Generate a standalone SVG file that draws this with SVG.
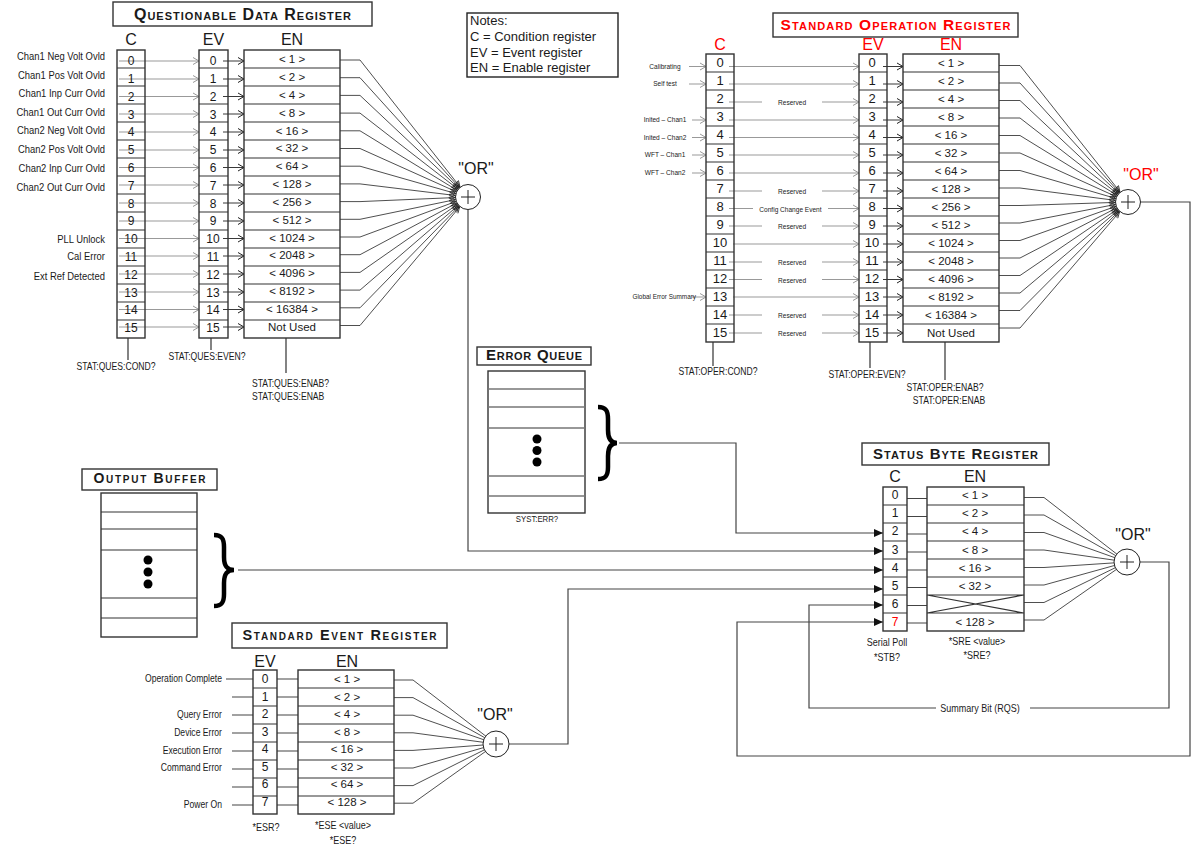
<svg xmlns="http://www.w3.org/2000/svg" width="1196" height="852" viewBox="0 0 1196 852">
<defs>
<style>
text{font-family:"Liberation Sans",Arial,sans-serif;fill:#1a1a1a}
.nar{font-family:"Liberation Sans Narrow","Liberation Sans",Arial,sans-serif}
.ttl{font-weight:bold;font-variant:small-caps;text-anchor:middle}
.hd{font-size:16px;text-anchor:middle}
.num{font-size:12px;text-anchor:middle}
.rnum{font-size:13px;text-anchor:middle}
.en{font-size:11.5px;text-anchor:middle}
.mid{text-anchor:middle}
.end{text-anchor:end}
.red{fill:#f00}
.frame{fill:none;stroke:#333;stroke-width:1.4}
.tframe{fill:#fff;stroke:#333;stroke-width:1.4}
.grid{fill:none;stroke:#333;stroke-width:1.2}
.qline{fill:none;stroke:#333;stroke-width:1.2}
.gw{fill:none;stroke:#999;stroke-width:1}
.bw{fill:none;stroke:#222;stroke-width:0.9}
.dw{fill:none;stroke:#444;stroke-width:1.2}
.fan{fill:none;stroke:#222;stroke-width:0.8}
.orc{fill:#fff;stroke:#222;stroke-width:1}
.plus{fill:none;stroke:#222;stroke-width:1}
</style>
<marker id="chg" viewBox="-8 -5 8 10" markerWidth="8" markerHeight="10" refX="0" refY="0" orient="auto" markerUnits="userSpaceOnUse" style="overflow:visible"><path d="M-6,-3.5L0,0L-6,3.5" fill="none" stroke="#999" stroke-width="1"/></marker>
<marker id="chb" viewBox="-8 -5 8 10" markerWidth="8" markerHeight="10" refX="0" refY="0" orient="auto" markerUnits="userSpaceOnUse" style="overflow:visible"><path d="M-6,-3.5L0,0L-6,3.5" fill="none" stroke="#222" stroke-width="1"/></marker>
<marker id="fa" viewBox="-20 -5 20 10" markerWidth="20" markerHeight="10" refX="0" refY="0" orient="auto" markerUnits="userSpaceOnUse" style="overflow:visible"><path d="M-19,-2.8L-13,0L-19,2.8" fill="none" stroke="#222" stroke-width="0.8"/></marker>
<marker id="tri" viewBox="-10 -5 10 10" markerWidth="10" markerHeight="10" refX="0" refY="0" orient="auto" markerUnits="userSpaceOnUse"><path d="M-9,-4L0,0L-9,4Z" fill="#111"/></marker>
</defs>
<rect width="1196" height="852" fill="#fff"/>

<!-- connectors -->
<g id="connectors">
  <!-- questionable data: condition -> event -->
  <g class="gw" marker-end="url(#chg)">
    <line x1="119" y1="61" x2="199" y2="61"/><line x1="119" y1="79" x2="199" y2="79"/>
    <line x1="119" y1="96.5" x2="199" y2="96.5"/><line x1="119" y1="114" x2="199" y2="114"/>
    <line x1="119" y1="132" x2="199" y2="132"/><line x1="119" y1="150" x2="199" y2="150"/>
    <line x1="119" y1="167.5" x2="199" y2="167.5"/><line x1="119" y1="185" x2="199" y2="185"/>
    <line x1="119" y1="203" x2="199" y2="203"/><line x1="119" y1="221" x2="199" y2="221"/>
    <line x1="119" y1="238.5" x2="199" y2="238.5"/><line x1="119" y1="256" x2="199" y2="256"/>
    <line x1="119" y1="274" x2="199" y2="274"/><line x1="119" y1="292" x2="199" y2="292"/>
    <line x1="119" y1="309.5" x2="199" y2="309.5"/><line x1="119" y1="327" x2="199" y2="327"/>
  </g>
  <!-- questionable data: event -> enable -->
  <g class="bw" marker-end="url(#chb)">
    <line x1="223" y1="61" x2="244" y2="61"/><line x1="223" y1="79" x2="244" y2="79"/>
    <line x1="223" y1="96.5" x2="244" y2="96.5"/><line x1="223" y1="114" x2="244" y2="114"/>
    <line x1="223" y1="132" x2="244" y2="132"/><line x1="223" y1="150" x2="244" y2="150"/>
    <line x1="223" y1="167.5" x2="244" y2="167.5"/><line x1="223" y1="185" x2="244" y2="185"/>
    <line x1="223" y1="203" x2="244" y2="203"/><line x1="223" y1="221" x2="244" y2="221"/>
    <line x1="223" y1="238.5" x2="244" y2="238.5"/><line x1="223" y1="256" x2="244" y2="256"/>
    <line x1="223" y1="274" x2="244" y2="274"/><line x1="223" y1="292" x2="244" y2="292"/>
    <line x1="223" y1="309.5" x2="244" y2="309.5"/><line x1="223" y1="327" x2="244" y2="327"/>
  </g>
  <!-- questionable data: enable -> OR -->
  <g class="fan" marker-end="url(#fa)">
    <polyline points="340,60 360,60 468,197"/><polyline points="340,77.7 360,77.7 468,197"/>
    <polyline points="340,95.4 360,95.4 468,197"/><polyline points="340,113.1 360,113.1 468,197"/>
    <polyline points="340,130.8 360,130.8 468,197"/><polyline points="340,148.5 360,148.5 468,197"/>
    <polyline points="340,166.2 360,166.2 468,197"/><polyline points="340,183.9 360,183.9 468,197"/>
    <polyline points="340,201.6 360,201.6 468,197"/><polyline points="340,219.3 360,219.3 468,197"/>
    <polyline points="340,237 360,237 468,197"/><polyline points="340,254.7 360,254.7 468,197"/>
    <polyline points="340,272.4 360,272.4 468,197"/><polyline points="340,290.1 360,290.1 468,197"/>
    <polyline points="340,307.8 360,307.8 468,197"/><polyline points="340,325.5 360,325.5 468,197"/>
  </g>

  <!-- standard operation: inputs -->
  <g class="gw" marker-end="url(#chg)">
    <line x1="689" y1="66.5" x2="706" y2="66.5"/><line x1="689" y1="84" x2="706" y2="84"/>
    <line x1="692" y1="120" x2="706" y2="120"/><line x1="692" y1="137.5" x2="706" y2="137.5"/>
    <line x1="692" y1="155" x2="706" y2="155"/><line x1="692" y1="173" x2="706" y2="173"/>
    <line x1="692" y1="297" x2="706" y2="297"/>
  </g>
  <!-- standard operation: condition -> event -->
  <g class="gw">
    <path d="M729,102H762M729,191H762M729,226H762M729,262H762M729,279.5H762M729,315H762M729,333H762M729,208.5H753"/>
  </g>
  <g class="gw" marker-end="url(#chg)">
    <line x1="729" y1="66.5" x2="859" y2="66.5"/><line x1="729" y1="84" x2="859" y2="84"/>
    <line x1="822" y1="102" x2="859" y2="102"/><line x1="729" y1="120" x2="859" y2="120"/>
    <line x1="729" y1="137.5" x2="859" y2="137.5"/><line x1="729" y1="155" x2="859" y2="155"/>
    <line x1="729" y1="173" x2="859" y2="173"/><line x1="822" y1="191" x2="859" y2="191"/>
    <line x1="828" y1="208.5" x2="859" y2="208.5"/><line x1="822" y1="226" x2="859" y2="226"/>
    <line x1="733" y1="244" x2="859" y2="244"/><line x1="822" y1="262" x2="859" y2="262"/>
    <line x1="822" y1="279.5" x2="859" y2="279.5"/><line x1="733" y1="297" x2="859" y2="297"/>
    <line x1="822" y1="315" x2="859" y2="315"/><line x1="822" y1="333" x2="859" y2="333"/>
  </g>
  <!-- standard operation: event -> enable -->
  <g class="bw" marker-end="url(#chb)">
    <line x1="883" y1="66.5" x2="903" y2="66.5"/><line x1="883" y1="84" x2="903" y2="84"/>
    <line x1="883" y1="102" x2="903" y2="102"/><line x1="883" y1="120" x2="903" y2="120"/>
    <line x1="883" y1="137.5" x2="903" y2="137.5"/><line x1="883" y1="155" x2="903" y2="155"/>
    <line x1="883" y1="173" x2="903" y2="173"/><line x1="883" y1="191" x2="903" y2="191"/>
    <line x1="883" y1="208.5" x2="903" y2="208.5"/><line x1="883" y1="226" x2="903" y2="226"/>
    <line x1="883" y1="244" x2="903" y2="244"/><line x1="883" y1="262" x2="903" y2="262"/>
    <line x1="883" y1="279.5" x2="903" y2="279.5"/><line x1="883" y1="297" x2="903" y2="297"/>
    <line x1="883" y1="315" x2="903" y2="315"/><line x1="883" y1="333" x2="903" y2="333"/>
  </g>
  <!-- standard operation: enable -> OR -->
  <g class="fan" marker-end="url(#fa)">
    <polyline points="999,65.5 1020,65.5 1128,202"/><polyline points="999,83 1020,83 1128,202"/>
    <polyline points="999,100.5 1020,100.5 1128,202"/><polyline points="999,118 1020,118 1128,202"/>
    <polyline points="999,135.5 1020,135.5 1128,202"/><polyline points="999,153 1020,153 1128,202"/>
    <polyline points="999,170.5 1020,170.5 1128,202"/><polyline points="999,188 1020,188 1128,202"/>
    <polyline points="999,205.5 1020,205.5 1128,202"/><polyline points="999,223 1020,223 1128,202"/>
    <polyline points="999,240.5 1020,240.5 1128,202"/><polyline points="999,258 1020,258 1128,202"/>
    <polyline points="999,275.5 1020,275.5 1128,202"/><polyline points="999,293 1020,293 1128,202"/>
    <polyline points="999,310.5 1020,310.5 1128,202"/><polyline points="999,328 1020,328 1128,202"/>
  </g>

  <!-- status byte: condition -> enable -->
  <g class="dw">
    <path d="M907,498.5H927M907,516.5H927M907,534H927M907,552H927M907,570H927M907,587.5H927M907,605.5H927M907,623H927"/>
  </g>
  <!-- status byte: enable -> OR -->
  <g class="fan">
    <polyline points="1024,497.5 1044,497.5 1127,562"/><polyline points="1024,515 1044,515 1127,562"/>
    <polyline points="1024,532.5 1044,532.5 1127,562"/><polyline points="1024,550 1044,550 1127,562"/>
    <polyline points="1024,567.5 1044,567.5 1127,562"/><polyline points="1024,585 1044,585 1127,562"/>
    <polyline points="1024,602.5 1044,602.5 1127,562"/><polyline points="1024,620 1044,620 1127,562"/>
  </g>

  <!-- standard event: inputs, event -> enable -->
  <g class="dw">
    <path d="M226,679H253M232,697H253M232,715H253M232,733H253M232,751H253M232,769H253M232,787H253M232,805H253"/>
    <path d="M277,679H298M277,697H298M277,715H298M277,733H298M277,751H298M277,769H298M277,787H298M277,805H298"/>
  </g>
  <!-- standard event: enable -> OR -->
  <g class="fan">
    <polyline points="394,680 413,680 496,744"/><polyline points="394,697.6 413,697.6 496,744"/>
    <polyline points="394,715.2 413,715.2 496,744"/><polyline points="394,732.8 413,732.8 496,744"/>
    <polyline points="394,750.4 413,750.4 496,744"/><polyline points="394,768 413,768 496,744"/>
    <polyline points="394,785.6 413,785.6 496,744"/><polyline points="394,803.2 413,803.2 496,744"/>
  </g>

  <!-- summaries into the status byte -->
  <g class="dw" marker-end="url(#tri)">
    <polyline points="619,443 736,443 736,533 883,533"/>
    <polyline points="468,209.5 468,551 883,551"/>
    <polyline points="238,570 883,570"/>
    <polyline points="509,744 568,744 568,589 883,589"/>
    <polyline points="936,708 809,708 809,605 883,605"/>
    <polyline points="1140.5,202 1190,202 1190,756 737,756 737,622 883,622"/>
  </g>
  <polyline class="dw" points="1140,562 1169,562 1169,708 1030,708"/>
</g>

<!-- questionable data register -->
<g id="questionable-data-register">
  <rect class="tframe" x="113" y="2" width="259" height="24"/>
  <text class="ttl" x="242.5" y="20" font-size="16" textLength="217">Questionable Data Register</text>
  <text class="hd" x="131" y="45">C</text>
  <text class="hd" x="213.5" y="45">EV</text>
  <text class="hd" x="292" y="45">EN</text>
  <rect class="frame" x="117" y="50" width="28" height="288"/>
  <rect class="frame" x="199" y="50" width="29" height="288"/>
  <rect class="frame" x="244" y="50" width="96" height="288"/>
  <path class="grid" d="M117,68h28M117,86h28M117,104h28M117,122h28M117,140h28M117,158h28M117,176h28M117,194h28M117,212h28M117,230h28M117,248h28M117,266h28M117,284h28M117,302h28M117,320h28"/>
  <path class="grid" d="M199,68h29M199,86h29M199,104h29M199,122h29M199,140h29M199,158h29M199,176h29M199,194h29M199,212h29M199,230h29M199,248h29M199,266h29M199,284h29M199,302h29M199,320h29"/>
  <path class="grid" d="M244,68h96M244,86h96M244,104h96M244,122h96M244,140h96M244,158h96M244,176h96M244,194h96M244,212h96M244,230h96M244,248h96M244,266h96M244,284h96M244,302h96M244,320h96"/>
  <g class="num">
    <text x="131" y="65">0</text><text x="131" y="83">1</text><text x="131" y="100.5">2</text><text x="131" y="118.5">3</text>
    <text x="131" y="136">4</text><text x="131" y="154">5</text><text x="131" y="172">6</text><text x="131" y="189.5">7</text>
    <text x="131" y="207.5">8</text><text x="131" y="225">9</text><text x="131" y="243">10</text><text x="131" y="261">11</text>
    <text x="131" y="278.5">12</text><text x="131" y="296.5">13</text><text x="131" y="314">14</text><text x="131" y="332">15</text>
    <text x="213" y="65">0</text><text x="213" y="83">1</text><text x="213" y="100.5">2</text><text x="213" y="118.5">3</text>
    <text x="213" y="136">4</text><text x="213" y="154">5</text><text x="213" y="172">6</text><text x="213" y="189.5">7</text>
    <text x="213" y="207.5">8</text><text x="213" y="225">9</text><text x="213" y="243">10</text><text x="213" y="261">11</text>
    <text x="213" y="278.5">12</text><text x="213" y="296.5">13</text><text x="213" y="314">14</text><text x="213" y="332">15</text>
  </g>
  <g class="en">
    <text x="292" y="63">&lt; 1 &gt;</text><text x="292" y="81">&lt; 2 &gt;</text><text x="292" y="99">&lt; 4 &gt;</text><text x="292" y="116.5">&lt; 8 &gt;</text>
    <text x="292" y="134.5">&lt; 16 &gt;</text><text x="292" y="152">&lt; 32 &gt;</text><text x="292" y="170">&lt; 64 &gt;</text><text x="292" y="188">&lt; 128 &gt;</text>
    <text x="292" y="206">&lt; 256 &gt;</text><text x="292" y="224">&lt; 512 &gt;</text><text x="292" y="241.5">&lt; 1024 &gt;</text><text x="292" y="259">&lt; 2048 &gt;</text>
    <text x="292" y="277">&lt; 4096 &gt;</text><text x="292" y="295">&lt; 8192 &gt;</text><text x="292" y="313">&lt; 16384 &gt;</text><text x="292" y="331">Not Used</text>
  </g>
  <!-- condensed lettering: horizontal scale 0.82, x given in scaled units -->
  <g class="nar end" font-size="11.5" transform="scale(0.82 1)">
    <text x="128" y="60">Chan1 Neg Volt Ovld</text><text x="128" y="79">Chan1 Pos Volt Ovld</text>
    <text x="128" y="97">Chan1 Inp Curr Ovld</text><text x="128" y="116">Chan1 Out Curr Ovld</text>
    <text x="128" y="134">Chan2 Neg Volt Ovld</text><text x="128" y="153">Chan2 Pos Volt Ovld</text>
    <text x="128" y="172">Chan2 Inp Curr Ovld</text><text x="128" y="191">Chan2 Out Curr Ovld</text>
    <text x="128" y="243">PLL Unlock</text><text x="128" y="260">Cal Error</text><text x="128" y="280">Ext Ref Detected</text>
  </g>
  <path class="qline" d="M128,338V360M211,338V350M286,338V373"/>
  <g class="nar" font-size="10.5" transform="scale(0.82 1)">
    <text class="mid" x="141.5" y="370">STAT:QUES:COND?</text>
    <text class="mid" x="252.4" y="360">STAT:QUES:EVEN?</text>
    <text x="307.3" y="387">STAT:QUES:ENAB?</text>
    <text x="307.3" y="400">STAT:QUES:ENAB</text>
  </g>
</g>

<g id="or-questionable">
  <circle class="orc" cx="468" cy="197" r="12.5"/>
  <path class="plus" d="M461,197h14M468,190v14"/>
  <text class="hd" x="476" y="174">"OR"</text>
</g>

<!-- notes -->
<g id="notes" font-size="13">
  <rect x="467" y="13" width="151" height="64" fill="none" stroke="#222" stroke-width="1.4"/>
  <text x="470" y="25">Notes:</text>
  <text x="470" y="41">C = Condition register</text>
  <text x="470" y="56.5">EV = Event register</text>
  <text x="470" y="72">EN = Enable register</text>
</g>

<!-- standard operation register -->
<g id="standard-operation-register">
  <rect class="tframe" x="773" y="13" width="245" height="24"/>
  <text class="ttl red" x="895.5" y="30" font-size="15.5" textLength="230">Standard Operation Register</text>
  <text class="hd red" x="720" y="50">C</text>
  <text class="hd red" x="873" y="50">EV</text>
  <text class="hd red" x="951" y="50">EN</text>
  <rect class="frame" x="706" y="54" width="28" height="288"/>
  <rect class="frame" x="859" y="54" width="28" height="288"/>
  <rect class="frame" x="903" y="54" width="96" height="288"/>
  <path class="grid" d="M706,72h28M706,90h28M706,108h28M706,126h28M706,144h28M706,162h28M706,180h28M706,198h28M706,216h28M706,234h28M706,252h28M706,270h28M706,288h28M706,306h28M706,324h28"/>
  <path class="grid" d="M859,72h28M859,90h28M859,108h28M859,126h28M859,144h28M859,162h28M859,180h28M859,198h28M859,216h28M859,234h28M859,252h28M859,270h28M859,288h28M859,306h28M859,324h28"/>
  <path class="grid" d="M903,72h96M903,90h96M903,108h96M903,126h96M903,144h96M903,162h96M903,180h96M903,198h96M903,216h96M903,234h96M903,252h96M903,270h96M903,288h96M903,306h96M903,324h96"/>
  <g class="rnum red">
    <text x="720" y="67">0</text><text x="720" y="85">1</text><text x="720" y="103">2</text><text x="720" y="121">3</text>
    <text x="720" y="139">4</text><text x="720" y="157">5</text><text x="720" y="175">6</text><text x="720" y="193">7</text>
    <text x="720" y="211">8</text><text x="720" y="229">9</text><text x="720" y="247">10</text><text x="720" y="265">11</text>
    <text x="720" y="283">12</text><text x="720" y="301">13</text><text x="720" y="319">14</text><text x="720" y="337">15</text>
    <text x="872" y="67">0</text><text x="872" y="85">1</text><text x="872" y="103">2</text><text x="872" y="121">3</text>
    <text x="872" y="139">4</text><text x="872" y="157">5</text><text x="872" y="175">6</text><text x="872" y="193">7</text>
    <text x="872" y="211">8</text><text x="872" y="229">9</text><text x="872" y="247">10</text><text x="872" y="265">11</text>
    <text x="872" y="283">12</text><text x="872" y="301">13</text><text x="872" y="319">14</text><text x="872" y="337">15</text>
  </g>
  <g class="en red">
    <text x="951" y="66.5">&lt; 1 &gt;</text><text x="951" y="84.5">&lt; 2 &gt;</text><text x="951" y="102.5">&lt; 4 &gt;</text><text x="951" y="120.5">&lt; 8 &gt;</text>
    <text x="951" y="138.5">&lt; 16 &gt;</text><text x="951" y="156.5">&lt; 32 &gt;</text><text x="951" y="174.5">&lt; 64 &gt;</text><text x="951" y="192.5">&lt; 128 &gt;</text>
    <text x="951" y="210.5">&lt; 256 &gt;</text><text x="951" y="228.5">&lt; 512 &gt;</text><text x="951" y="246.5">&lt; 1024 &gt;</text><text x="951" y="264.5">&lt; 2048 &gt;</text>
    <text x="951" y="282.5">&lt; 4096 &gt;</text><text x="951" y="300.5">&lt; 8192 &gt;</text><text x="951" y="318.5">&lt; 16384 &gt;</text><text x="951" y="336.5">Not Used</text>
  </g>
  <g class="nar mid red" font-size="8" transform="scale(0.82 1)">
    <text x="811" y="69">Calibrating</text><text x="811" y="86.5">Self test</text>
    <text x="811" y="122.5">Inited – Chan1</text><text x="811" y="140">Inited – Chan2</text>
    <text x="811" y="157.5">WFT – Chan1</text><text x="811" y="175.5">WFT – Chan2</text>
    <text class="end" x="848.8" y="299.5" font-size="7.8">Global Error Summary</text>
    <text x="965.9" y="105.5">Reserved</text><text x="965.9" y="194.5">Reserved</text>
    <text x="964" y="212">Config Change Event</text><text x="965.9" y="229.5">Reserved</text>
    <text x="965.9" y="265.5">Reserved</text><text x="965.9" y="283">Reserved</text>
    <text x="965.9" y="318.5">Reserved</text><text x="965.9" y="336.5">Reserved</text>
  </g>
  <path class="qline" d="M713,342V366M870,342V368M945,342V380"/>
  <g class="nar mid red" font-size="10.5" transform="scale(0.82 1)">
    <text x="875.6" y="375">STAT:OPER:COND?</text>
    <text x="1057.3" y="378">STAT:OPER:EVEN?</text>
    <text x="1152.4" y="391">STAT:OPER:ENAB?</text>
    <text x="1157.3" y="404">STAT:OPER:ENAB</text>
  </g>
</g>

<g id="or-operation">
  <circle class="orc" cx="1128" cy="202" r="12.5"/>
  <path class="plus" d="M1121,202h14M1128,195v14"/>
  <text class="hd red" x="1141" y="180">"OR"</text>
</g>

<!-- error queue -->
<g id="error-queue">
  <rect class="tframe" x="477" y="347" width="114" height="18"/>
  <text class="ttl" x="534" y="360" font-size="15" textLength="96">Error Queue</text>
  <rect class="frame" x="488" y="371" width="97" height="142"/>
  <path d="M488,389h97M488,407h97M488,428h97M488,476h97M488,496h97" fill="none" stroke="#777" stroke-width="1.5"/>
  <circle cx="537" cy="439" r="4.5" fill="#000"/>
  <circle cx="537" cy="450.5" r="4.5" fill="#000"/>
  <circle cx="537" cy="462" r="4.5" fill="#000"/>
  <path d="M598,407C606,407 608,411 608,419L608,430C608,439 611,443 617,443C611,443 608,447 608,456L608,467C608,475 606,479 598,479" fill="none" stroke="#000" stroke-width="4.5"/>
  <text class="nar mid" x="654.9" y="522" font-size="9.5" transform="scale(0.82 1)">SYST:ERR?</text>
</g>

<!-- output buffer -->
<g id="output-buffer">
  <rect class="tframe" x="82" y="469" width="135" height="21"/>
  <text class="ttl" x="149.5" y="483" font-size="14" textLength="112">Output Buffer</text>
  <rect class="frame" x="101" y="493" width="96" height="144"/>
  <path d="M101,512h96M101,529h96M101,550h96M101,598h96M101,618h96" fill="none" stroke="#333" stroke-width="1.2"/>
  <circle cx="148" cy="560" r="4.5" fill="#000"/>
  <circle cx="148" cy="572" r="4.5" fill="#000"/>
  <circle cx="148" cy="584" r="4.5" fill="#000"/>
  <path d="M214,535C222,535 224,539 224,547L224,557C224,566 227,570 234,570C227,570 224,574 224,583L224,594C224,602 222,606 214,606" fill="none" stroke="#000" stroke-width="4.5"/>
</g>

<!-- status byte register -->
<g id="status-byte-register">
  <rect class="tframe" x="862" y="443" width="187" height="22"/>
  <text class="ttl" x="955.5" y="459" font-size="15" textLength="165">Status Byte Register</text>
  <text class="hd" x="895" y="482">C</text>
  <text class="hd" x="975" y="482">EN</text>
  <rect class="frame" x="883" y="487" width="24" height="144"/>
  <rect class="frame" x="927" y="487" width="97" height="144"/>
  <path class="grid" d="M883,505h24M883,523h24M883,541h24M883,559h24M883,577h24M883,595h24M883,613h24"/>
  <path class="grid" d="M927,505h97M927,523h97M927,541h97M927,559h97M927,577h97M927,595h97M927,613h97M927,595L1024,613M927,613L1024,595"/>
  <g class="num">
    <text x="895" y="499">0</text><text x="895" y="517">1</text><text x="895" y="535">2</text><text x="895" y="553.5">3</text>
    <text x="895" y="571.5">4</text><text x="895" y="589.5">5</text><text x="895" y="607.5">6</text><text class="red" x="895" y="626">7</text>
  </g>
  <g class="en">
    <text x="975" y="499">&lt; 1 &gt;</text><text x="975" y="517">&lt; 2 &gt;</text><text x="975" y="535">&lt; 4 &gt;</text><text x="975" y="553.5">&lt; 8 &gt;</text>
    <text x="975" y="571.5">&lt; 16 &gt;</text><text x="975" y="589.5">&lt; 32 &gt;</text><text x="975" y="626">&lt; 128 &gt;</text>
  </g>
  <g class="nar mid" font-size="11" transform="scale(0.82 1)">
    <text x="1081.7" y="646">Serial Poll</text>
    <text x="1081.7" y="661">*STB?</text>
    <text x="1191.5" y="645">*SRE &lt;value&gt;</text>
    <text x="1191.5" y="659">*SRE?</text>
    <text x="1195.1" y="712">Summary Bit (RQS)</text>
  </g>
</g>

<g id="or-status">
  <circle class="orc" cx="1127" cy="562" r="13"/>
  <path class="plus" d="M1120,562h14M1127,555v14"/>
  <text class="hd" x="1133" y="540">"OR"</text>
</g>

<!-- standard event register -->
<g id="standard-event-register">
  <rect class="tframe" x="232" y="623" width="215" height="25"/>
  <text class="ttl" x="339.5" y="640" font-size="14.5" textLength="194">Standard Event Register</text>
  <text class="hd" x="265" y="667">EV</text>
  <text class="hd" x="347" y="667">EN</text>
  <rect class="frame" x="253" y="670" width="24" height="144"/>
  <rect class="frame" x="298" y="670" width="96" height="144"/>
  <path class="grid" d="M253,688h24M253,706h24M253,724h24M253,742h24M253,760h24M253,778h24M253,796h24"/>
  <path class="grid" d="M298,688h96M298,706h96M298,724h96M298,742h96M298,760h96M298,778h96M298,796h96"/>
  <g class="num">
    <text x="265" y="683">0</text><text x="265" y="700.5">1</text><text x="265" y="718">2</text><text x="265" y="735.5">3</text>
    <text x="265" y="753">4</text><text x="265" y="770.5">5</text><text x="265" y="788">6</text><text x="265" y="805.5">7</text>
  </g>
  <g class="en">
    <text x="347" y="683">&lt; 1 &gt;</text><text x="347" y="700.5">&lt; 2 &gt;</text><text x="347" y="718">&lt; 4 &gt;</text><text x="347" y="735.5">&lt; 8 &gt;</text>
    <text x="347" y="753">&lt; 16 &gt;</text><text x="347" y="770.5">&lt; 32 &gt;</text><text x="347" y="788">&lt; 64 &gt;</text><text x="347" y="805.5">&lt; 128 &gt;</text>
  </g>
  <g class="nar end" font-size="10.5" transform="scale(0.82 1)">
    <text x="270.7" y="682">Operation Complete</text>
    <text x="270.7" y="718">Query Error</text>
    <text x="270.7" y="736">Device Error</text>
    <text x="270.7" y="754">Execution Error</text>
    <text x="270.7" y="771">Command Error</text>
    <text x="270.7" y="808">Power On</text>
  </g>
  <g class="nar mid" font-size="11" transform="scale(0.82 1)">
    <text x="324.4" y="831">*ESR?</text>
    <text x="418.3" y="829">*ESE &lt;value&gt;</text>
    <text x="418.3" y="844">*ESE?</text>
  </g>
</g>

<g id="or-event">
  <circle class="orc" cx="496" cy="744" r="13"/>
  <path class="plus" d="M489,744h14M496,737v14"/>
  <text class="hd" x="495" y="720">"OR"</text>
</g>
</svg>
